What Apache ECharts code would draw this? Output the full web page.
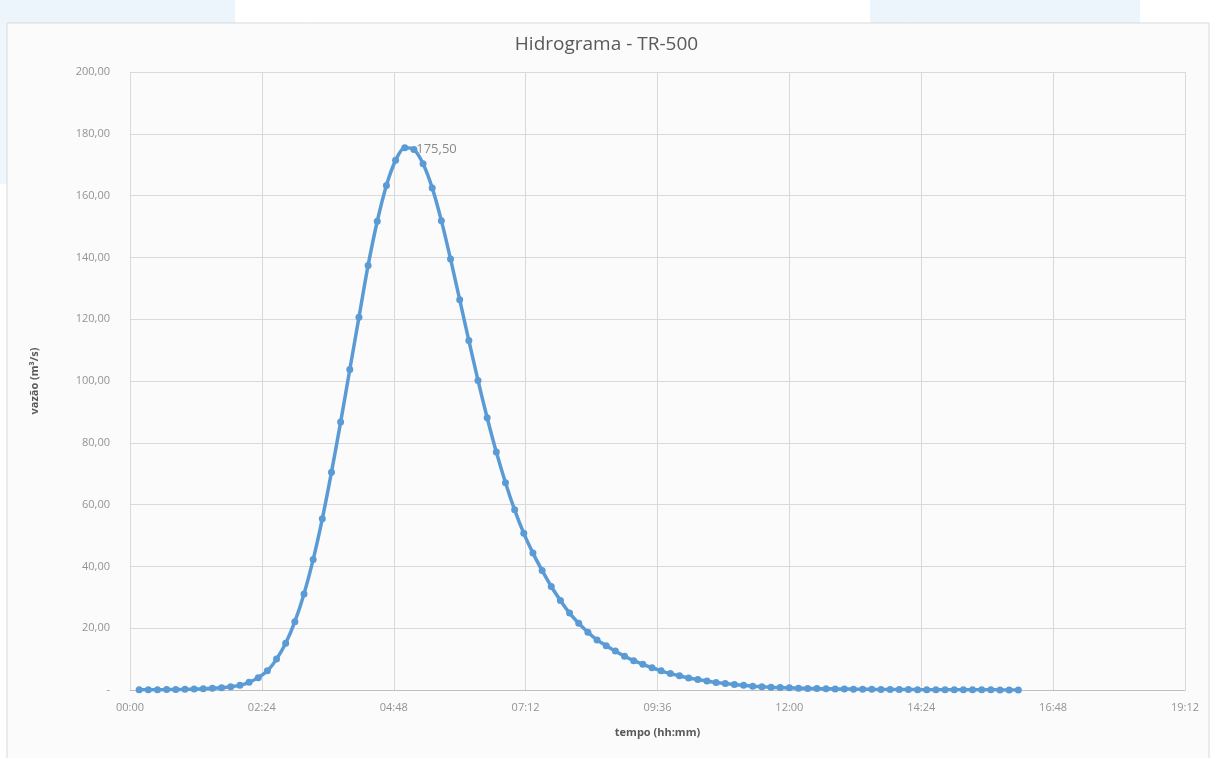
<!DOCTYPE html>
<html>
<head>
<meta charset="utf-8">
<script src="https://cdn.jsdelivr.net/npm/echarts@6/dist/echarts.min.js"></script>
<style>
html,body{margin:0;padding:0;background:#fff;}
#c{width:1213px;height:758px;}
</style>
</head>
<body>
<div id="c"></div>
<script>
const title = 'Hidrograma - TR-500';
const xName = 'tempo (hh:mm)';
const yName = 'vazão (m³/s)';
const xTickLabels = ['00:00','02:24','04:48','07:12','09:36','12:00','14:24','16:48','19:12'];
const yTicks = [0,20,40,60,80,100,120,140,160,180,200];
const times = [
 '00:10','00:20','00:30','00:40','00:50','01:00','01:10','01:20','01:30','01:40',
 '01:50','02:00','02:10','02:20','02:30','02:40','02:50','03:00','03:10','03:20',
 '03:30','03:40','03:50','04:00','04:10','04:20','04:30','04:40','04:50','05:00',
 '05:10','05:20','05:30','05:40','05:50','06:00','06:10','06:20','06:30','06:40',
 '06:50','07:00','07:10','07:20','07:30','07:40','07:50','08:00','08:10','08:20',
 '08:30','08:40','08:50','09:00','09:10','09:20','09:30','09:40','09:50','10:00',
 '10:10','10:20','10:30','10:40','10:50','11:00','11:10','11:20','11:30','11:40',
 '11:50','12:00','12:10','12:20','12:30','12:40','12:50','13:00','13:10','13:20',
 '13:30','13:40','13:50','14:00','14:10','14:20','14:30','14:40','14:50','15:00',
 '15:10','15:20','15:30','15:40','15:50','16:00','16:10'
];
const vazao = [
 0.05,0.08,0.10,0.13,0.17,0.22,0.30,0.40,0.55,0.75,
 1.05,1.50,2.50,4.00,6.20,10.00,15.10,22.10,31.10,42.20,
 55.40,70.50,86.70,103.70,120.60,137.40,151.70,163.30,171.40,175.50,
 174.90,170.30,162.50,151.90,139.50,126.30,113.10,100.20,88.10,77.00,
 67.10,58.30,50.70,44.30,38.70,33.50,29.00,24.90,21.60,18.70,
 16.20,14.30,12.60,10.90,9.50,8.30,7.20,6.20,5.30,4.60,
 3.90,3.40,2.90,2.40,2.10,1.80,1.50,1.25,1.05,0.90,
 0.80,0.70,0.60,0.50,0.45,0.40,0.35,0.30,0.27,0.24,
 0.21,0.19,0.17,0.15,0.13,0.12,0.10,0.09,0.08,0.07,
 0.06,0.06,0.05,0.05,0.04,0.04,0.03
];

function toMin(s){const p=s.split(':');return (+p[0])*60+(+p[1]);}
function fmtHM(m){const h=Math.floor(m/60),mm=Math.round(m%60);return String(h).padStart(2,'0')+':'+String(mm).padStart(2,'0');}
function fmtNum(v){return v.toFixed(2).replace('.',',');}

const xStep = toMin(xTickLabels[1]) - toMin(xTickLabels[0]);
const xMax = toMin(xTickLabels[xTickLabels.length-1]);
let peakIdx = 0;
vazao.forEach((v,i)=>{ if(v>vazao[peakIdx]) peakIdx=i; });

const data = times.map((t,i)=>{
  const item = {value:[toMin(t), vazao[i]]};
  if(i===peakIdx){
    item.label = {show:true, position:'right', distance:6, offset:[2,2],
      formatter: p=>fmtNum(p.value[1]), color:'#8a8a8a', fontSize:13, fontFamily:'Open Sans'};
  }
  return item;
});

const chart = echarts.init(document.getElementById('c'), null, {renderer:'canvas'});
chart.setOption({
  backgroundColor:'#ffffff',
  animation:false,
  title:{text:title, left:'center', top:30,
    textStyle:{color:'#595959', fontSize:19, fontWeight:'normal', fontFamily:'Open Sans'}},
  graphic:[
    {type:'rect', z:-10, shape:{x:0,y:0,width:235,height:24}, style:{fill:'#edf5fc'}},
    {type:'rect', z:-10, shape:{x:0,y:24,width:7,height:160}, style:{fill:'#f0f7fc'}},
    {type:'rect', z:-10, shape:{x:870,y:0,width:270,height:24}, style:{fill:'#edf5fc'}},
    {type:'rect', z:-9, shape:{x:7,y:23,width:1202,height:745},
      style:{fill:'#fbfbfb', stroke:'#d9d9d9', lineWidth:1}}
  ],
  grid:{left:130, right:28, top:72, bottom:68, containLabel:false},
  xAxis:{
    type:'value', min:0, max:xMax, interval:xStep,
    name:xName, nameLocation:'middle', nameGap:37,
    nameTextStyle:{color:'#595959', fontSize:11, fontWeight:'bold', fontFamily:'Open Sans'},
    axisLine:{show:true, lineStyle:{color:'#bfbfbf'}},
    axisTick:{show:false},
    axisLabel:{color:'#939393', fontSize:11, margin:12, fontFamily:'Open Sans', formatter:v=>fmtHM(v)},
    splitLine:{show:true, lineStyle:{color:'#d9d9d9', width:1}}
  },
  yAxis:{
    type:'value', min:yTicks[0], max:yTicks[yTicks.length-1], interval:yTicks[1]-yTicks[0],
    name:yName, nameLocation:'middle', nameGap:90,
    nameTextStyle:{color:'#595959', fontSize:11, fontWeight:'bold', fontFamily:'Open Sans'},
    axisLine:{show:false}, axisTick:{show:false},
    axisLabel:{color:'#939393', fontSize:11, margin:20, fontFamily:'Open Sans',
      formatter:v=> v===0 ? '-' : fmtNum(v)},
    splitLine:{show:true, lineStyle:{color:'#d9d9d9', width:1}}
  },
  series:[{
    type:'line', data:data, smooth:0.3,
    symbol:'circle', symbolSize:7,
    lineStyle:{color:'#5b9bd5', width:3.5},
    itemStyle:{color:'#5b9bd5'},
    z:5
  }]
});
</script>
</body>
</html>
